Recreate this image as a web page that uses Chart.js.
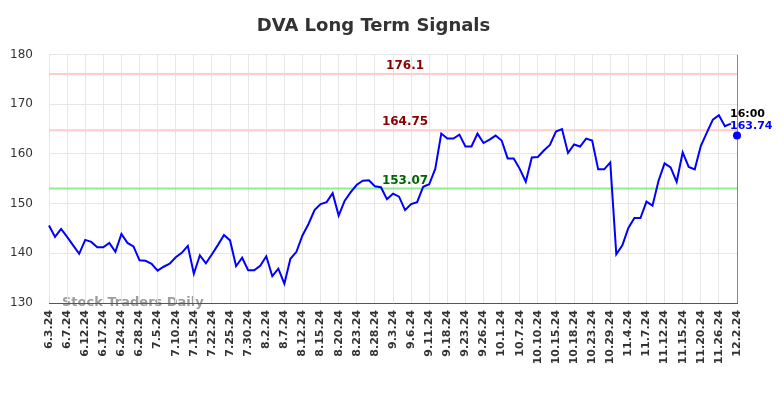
<!DOCTYPE html>
<html>
<head>
<meta charset="utf-8">
<script src="https://cdn.jsdelivr.net/npm/chart.js@4/dist/chart.umd.min.js"></script>
<style>
  html, body { margin: 0; padding: 0; background: #fff; }
  #wrap { width: 784px; height: 398px; }
</style>
</head>
<body>
<div id="wrap"><canvas id="chart"></canvas></div>
<script>
'use strict';

// trading days (only every 3rd one is printed on the axis)
const dates = [
  '6.3.24', '6.4.24', '6.5.24', '6.7.24', '6.10.24', '6.11.24', '6.12.24', '6.13.24', '6.14.24',
  '6.17.24', '6.18.24', '6.20.24', '6.24.24', '6.25.24', '6.26.24', '6.28.24', '7.1.24', '7.2.24',
  '7.5.24', '7.8.24', '7.9.24', '7.10.24', '7.11.24', '7.12.24', '7.15.24', '7.16.24', '7.18.24',
  '7.22.24', '7.23.24', '7.24.24', '7.25.24', '7.26.24', '7.29.24', '7.30.24', '7.31.24', '8.1.24',
  '8.2.24', '8.5.24', '8.6.24', '8.7.24', '8.8.24', '8.9.24', '8.12.24', '8.13.24', '8.14.24',
  '8.15.24', '8.16.24', '8.19.24', '8.20.24', '8.21.24', '8.22.24', '8.23.24', '8.26.24', '8.27.24',
  '8.28.24', '8.29.24', '8.30.24', '9.3.24', '9.4.24', '9.5.24', '9.6.24', '9.9.24', '9.10.24',
  '9.11.24', '9.12.24', '9.16.24', '9.18.24', '9.19.24', '9.20.24', '9.23.24', '9.24.24', '9.25.24',
  '9.26.24', '9.27.24', '9.30.24', '10.1.24', '10.2.24', '10.4.24', '10.7.24', '10.8.24', '10.9.24',
  '10.10.24', '10.11.24', '10.14.24', '10.15.24', '10.16.24', '10.17.24', '10.18.24', '10.21.24', '10.22.24',
  '10.23.24', '10.24.24', '10.28.24', '10.29.24', '10.30.24', '11.1.24', '11.4.24', '11.5.24', '11.6.24',
  '11.7.24', '11.8.24', '11.11.24', '11.12.24', '11.13.24', '11.14.24', '11.15.24', '11.18.24', '11.19.24',
  '11.20.24', '11.21.24', '11.25.24', '11.26.24', '11.27.24', '11.29.24', '12.2.24'
];

// daily closes
const closes = [
  145.6, 143.3, 144.9, 143.3, 141.6, 139.9, 142.7, 142.3, 141.2, 141.2,
  142.1, 140.3, 143.9, 142.1, 141.4, 138.6, 138.5, 137.9, 136.5, 137.3,
  137.9, 139.2, 140.1, 141.5, 135.9, 139.6, 138.0, 139.8, 141.7, 143.7,
  142.6, 137.4, 139.1, 136.6, 136.6, 137.5, 139.4, 135.4, 136.9, 133.9,
  138.9, 140.3, 143.6, 145.9, 148.7, 149.9, 150.3, 152.1, 147.6, 150.6,
  152.3, 153.8, 154.6, 154.7, 153.5, 153.3, 150.9, 152.0, 151.4, 148.7,
  149.9, 150.3, 153.4, 153.9, 157.0, 164.1, 163.1, 163.1, 163.9, 161.5,
  161.5, 164.1, 162.2, 162.9, 163.7, 162.7, 159.1, 159.1, 157.0, 154.4,
  159.3, 159.4, 160.7, 161.8, 164.5, 165.0, 160.2, 161.9, 161.5, 163.1,
  162.7, 156.9, 156.9, 158.3, 139.8, 141.6, 145.1, 147.1, 147.1, 150.4,
  149.6, 154.6, 158.1, 157.3, 154.4, 160.3, 157.4, 156.9, 161.6, 164.3,
  166.9, 167.8, 165.6, 166.1
];

const lastClose = 163.74;
const lastTime = '16:00';

// signal levels
const upperLevels = [176.1, 164.75];
const lowerLevels = [153.07];

const yTicks = [130, 140, 150, 160, 170, 180];

const FONT = '"DejaVu Sans", sans-serif';

const flat = v => dates.map(() => v);

let datasets = [
  {
    data: dates.map((d, i) => i === dates.length - 1 ? lastClose : null),
    showLine: false,
    pointRadius: 4,
    pointBackgroundColor: '#0000ff',
    pointBorderWidth: 0
  },
  {
    data: closes,
    borderColor: '#0000ff',
    borderWidth: 2,
    pointRadius: 0,
    tension: 0
  }
];
upperLevels.forEach(v => datasets.push({
  data: flat(v), borderColor: '#ffcccc', borderWidth: 2, pointRadius: 0
}));
lowerLevels.forEach(v => datasets.push({
  data: flat(v), borderColor: '#90ee90', borderWidth: 2, pointRadius: 0
}));

const textPlugin = {
  id: 'signalText',
  beforeDraw(chart) {
    const ctx = chart.ctx;
    const area = chart.chartArea;
    ctx.save();
    ctx.font = 'bold 13px ' + FONT;
    ctx.fillStyle = 'rgba(140,140,140,0.85)';
    ctx.textAlign = 'left';
    ctx.textBaseline = 'middle';
    ctx.fillText('Stock Traders Daily', area.left + 13, area.bottom);
    ctx.restore();
  },
  afterDatasetsDraw(chart) {
    const ctx = chart.ctx;
    const x = chart.scales.x;
    const y = chart.scales.y;
    const mid = x.getPixelForValue(59);
    ctx.save();
    ctx.font = 'bold 12px ' + FONT;
    ctx.textAlign = 'center';
    ctx.textBaseline = 'bottom';
    upperLevels.forEach(v => {
      ctx.fillStyle = '#8b0000';
      ctx.fillText(String(v), mid, y.getPixelForValue(v) - 2);
    });
    lowerLevels.forEach(v => {
      ctx.fillStyle = '#006400';
      ctx.fillText(String(v), mid, y.getPixelForValue(v) - 2);
    });
    const lx = x.getPixelForValue(dates.length - 1);
    const ly = y.getPixelForValue(lastClose);
    ctx.textAlign = 'left';
    ctx.font = 'bold 11px ' + FONT;
    ctx.fillStyle = '#000';
    ctx.fillText(lastTime, lx - 7, ly - 16);
    ctx.fillStyle = '#0000ff';
    ctx.fillText(lastClose.toFixed(2), lx - 7, ly - 4);
    ctx.restore();
  }
};

new Chart(document.getElementById('chart'), {
  type: 'line',
  data: { labels: dates, datasets: datasets },
  options: {
    responsive: true,
    maintainAspectRatio: false,
    animation: false,
    devicePixelRatio: 1,
    layout: { padding: { left: 10, right: 47, top: 0, bottom: 0 } },
    plugins: {
      legend: { display: false },
      tooltip: { enabled: false },
      title: {
        display: true,
        text: 'DVA Long Term Signals',
        color: '#333',
        font: { family: FONT, size: 18, weight: 'bold' },
        padding: { top: 16, bottom: 17 }
      }
    },
    scales: {
      x: {
        afterFit: s => { s.height = 95; },
        grid: {
          drawTicks: false,
          color: c => c.index === dates.length - 1 ? '#888' : (c.index % 3 === 0 ? '#e6e6e6' : 'rgba(0,0,0,0)'),
          lineWidth: 1
        },
        border: { color: '#555', width: 1 },
        ticks: {
          autoSkip: false,
          minRotation: 90,
          maxRotation: 90,
          padding: 7,
          color: '#333',
          font: { family: FONT, size: 11, weight: 'bold' },
          callback: (v, i) => i % 3 === 0 ? dates[i] : ''
        }
      },
      y: {
        min: yTicks[0],
        max: yTicks[yTicks.length - 1],
        afterFit: s => { s.width = 39; },
        afterBuildTicks: s => { s.ticks = yTicks.map(v => ({ value: v })); },
        grid: { drawTicks: false, color: '#e6e6e6' },
        border: { display: false },
        ticks: {
          padding: 16,
          color: '#333',
          font: { family: FONT, size: 12 }
        }
      }
    }
  },
  plugins: [textPlugin]
});
</script>
</body>
</html>
